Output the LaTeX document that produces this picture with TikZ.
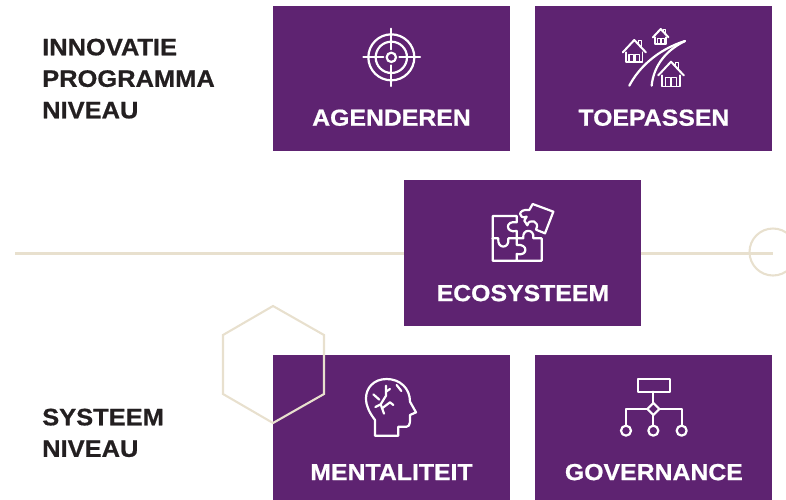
\documentclass[tikz,border=0pt]{standalone}
\usepackage{fontspec}
\setmainfont{Liberation Sans}[BoldFeatures={FakeStretch=1.07,FakeBold=0.7}]
\usetikzlibrary{positioning}

\definecolor{tilepurple}{HTML}{5E2371}
\definecolor{sand}{HTML}{E8E0CE}
\definecolor{ink}{HTML}{231F20}

\tikzset{
  tile/.style={fill=tilepurple, inner sep=0pt, minimum width=237pt, minimum height=145pt},
  tiletext/.style={text=white, font=\fontsize{23.2}{26}\selectfont\bfseries, inner sep=0pt, text height=17pt, text depth=0pt},
  leveltext/.style={text=ink, font=\fontsize{23.8}{31.5}\selectfont\bfseries, inner sep=0pt, align=left, anchor=north west},
  sandline/.style={draw=sand, line width=2.1pt},
  icon/.style={draw=white, line width=2.2pt, line join=round, line cap=round},
  zoomed/.style={x=.3333pt, y=-.3333pt},
  pics/house/.style={code={
    \draw[icon, line width=2pt] (-1,1.07) -- (0,0) -- (1,1.07);
    \draw[icon, line width=1.8pt] (-.72,1.07) -- (-.72,1.94) -- (.72,1.94) -- (.72,1.07);
    \draw[icon, line width=1.4pt] (.35,.3) -- (.35,.05) -- (.6,.05) -- (.6,.6);
    \draw[icon, line width=1.4pt] (-.45,1.25) rectangle (-.05,1.94);
    \draw[icon, line width=1.4pt] (.05,1.25) rectangle (.45,1.94);
  }}
}

\begin{document}
\begin{tikzpicture}[x=1pt, y=-1pt]
\clip (0,0) rectangle (786,499);

\coordinate (linestart) at (15,253.5);
\node[sandline, circle, minimum size=47pt, inner sep=0pt] (ring) at (773,252) {};
\draw[sandline] (linestart) -- (ring.center |- linestart);

\node[tile] (agenderen) at (391.5,78.5) {};
\node[tile] (toepassen) [right=25pt of agenderen] {};
\node[tile, minimum height=146pt] (ecosysteem) [below right=29pt and -106pt of agenderen] {};
\node[tile] (mentaliteit) [below=204pt of agenderen] {};
\node[tile] (governance) [right=25pt of mentaliteit] {};

\node[tiletext] (agenderentext) at ([yshift=34pt]agenderen.south) {AGENDEREN};
\node[tiletext] (toepassentext) at ([yshift=34pt]toepassen.south) {TOEPASSEN};
\node[tiletext] (ecosysteemtext) at ([yshift=34pt]ecosysteem.south) {ECOSYSTEEM};
\node[tiletext] (mentaliteittext) at ([yshift=29pt]mentaliteit.south) {MENTALITEIT};
\node[tiletext] (governancetext) at ([yshift=29pt]governance.south) {GOVERNANCE};

\node[leveltext] (programma) at (42,38.5) {INNOVATIE\\PROGRAMMA\\NIVEAU};
\node[leveltext] (systeem) at (42,408.5) {SYSTEEM\\NIVEAU};

% hexagon
\draw[sandline] (273,306) -- (324,335) -- (324,394) -- (273,423) -- (223,394) -- (223,335) -- cycle;

% target
\begin{scope}[shift={(340,10)}, zoomed]
\draw[icon] (154,142) circle[radius=69];
\draw[icon] (154,142) circle[radius=47];
\draw[icon] (154,142) circle[radius=14];
\draw[icon] (70,142) -- (130,142);
\draw[icon] (178,142) -- (240,142);
\draw[icon] (154,56) -- (154,118);
\draw[icon] (154,166) -- (154,228);
\end{scope}

% houses and road
\pic[scale=11.5, x=1pt, y=-1pt] at (634.3,40) {house};
\pic[scale=7.8, x=1pt, y=-1pt] at (660.7,29) {house};
\pic[scale=12.8, x=1pt, y=-1pt] at (671,61.7) {house};
\begin{scope}[shift={(600,15)}, zoomed]
\draw[icon] (88,212) .. controls (115,160) and (170,105) .. (255,78);
\draw[icon] (155,212) .. controls (160,160) and (190,110) .. (255,78);
\end{scope}

% puzzle
\begin{scope}[shift={(470,190)}, zoomed]
\draw[icon] (68,145) -- (68,78) -- (140,78) -- (140,97) .. controls (105,90) and (105,130) .. (140,123) -- (140,145);
\draw[icon] (68,145) -- (68,212) -- (140,212) -- (140,192) .. controls (175,200) and (175,160) .. (140,165) -- (140,145);
\draw[icon] (68,145) -- (85,145) .. controls (80,178) and (120,178) .. (115,145) -- (160,145) .. controls (155,115) and (195,115) .. (190,145) -- (215,145) -- (215,212) -- (140,212);
\draw[icon] (188,42) -- (250,65) -- (225,130) -- (198,119) .. controls (212,92) and (176,84) .. (172,106) -- (163,92) -- (170,80) .. controls (145,90) and (140,55) .. (178,60) -- cycle;
\end{scope}

% head
\begin{scope}[shift={(340,365)}, zoomed]
\draw[icon] (105,212) -- (175,212) -- (175,185) -- (200,185) .. controls (212,185) and (210,165) .. (210,150) -- (228,142) -- (210,110) .. controls (210,70) and (180,42) .. (140,42) .. controls (100,42) and (78,70) .. (78,100) .. controls (78,125) and (90,145) .. (105,165) -- cycle;
\draw[icon] (138,62) -- (138,92) -- (122,118) -- (106,126);
\draw[icon] (138,80) -- (150,72);
\draw[icon] (100,88) -- (118,104);
\draw[icon] (122,118) -- (132,146);
\draw[icon] (126,130) -- (150,112) -- (160,120);
\draw[icon] (170,60) -- (184,78);
\end{scope}

% chart
\begin{scope}[shift={(600,365)}, zoomed]
\draw[icon] (113,42) rectangle (210,80);
\draw[icon] (160,80) -- (160,114);
\draw[icon] (160,114) -- (178,132) -- (160,150) -- (142,132) -- cycle;
\draw[icon] (142,132) -- (78,132) -- (78,182);
\draw[icon] (178,132) -- (245,132) -- (245,182);
\draw[icon] (160,150) -- (160,182);
\draw[icon] (78,197) circle[radius=15];
\draw[icon] (160,197) circle[radius=15];
\draw[icon] (245,197) circle[radius=15];
\end{scope}
\end{tikzpicture}
\end{document}
